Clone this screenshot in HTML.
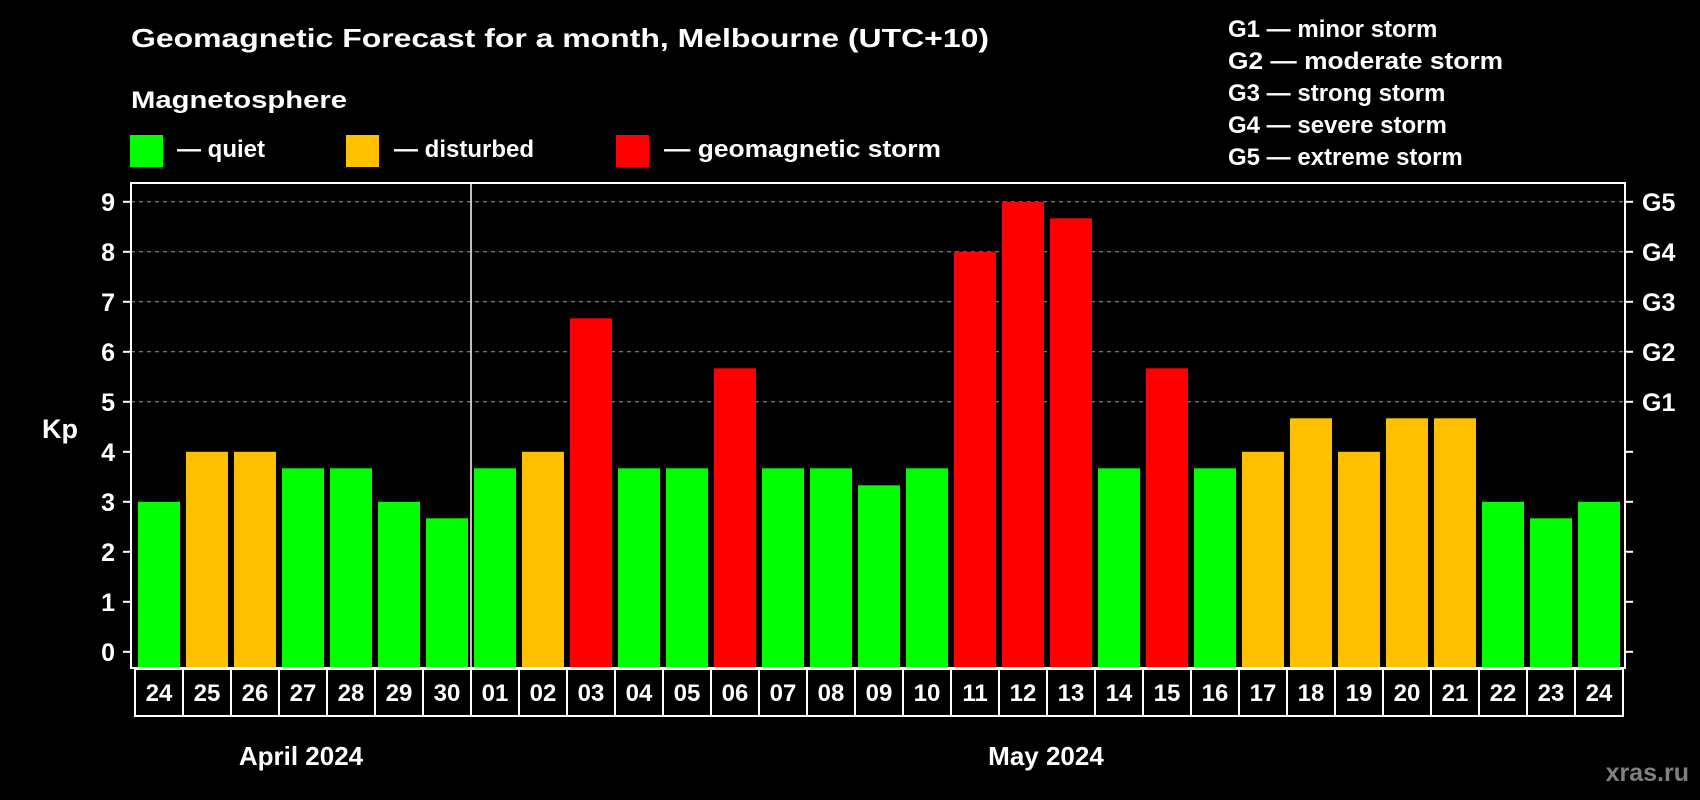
<!DOCTYPE html>
<html><head><meta charset="utf-8"><style>html,body{margin:0;padding:0;background:#000;}svg{display:block;font-family:"Liberation Sans",Arial,sans-serif;font-weight:bold;}</style></head>
<body>
<svg id="chart" width="1700" height="800" viewBox="0 0 1700 800" xmlns="http://www.w3.org/2000/svg">
<rect x="0" y="0" width="1700" height="800" fill="#000"/>
<text x="131" y="47" fill="#fff" font-size="26" textLength="858" lengthAdjust="spacingAndGlyphs">Geomagnetic Forecast for a month, Melbourne (UTC+10)</text>
<text x="131" y="108" fill="#fff" font-size="24" textLength="216" lengthAdjust="spacingAndGlyphs">Magnetosphere</text>
<rect x="130" y="135" width="33" height="32" fill="#00ff00"/>
<text x="177" y="157" fill="#fff" font-size="24">— quiet</text>
<rect x="346" y="135" width="33" height="32" fill="#ffc000"/>
<text x="394" y="157" fill="#fff" font-size="24">— disturbed</text>
<rect x="616" y="135" width="33" height="32" fill="#ff0000"/>
<text x="664" y="157" fill="#fff" font-size="24" textLength="277" lengthAdjust="spacingAndGlyphs">— geomagnetic storm</text>
<g fill="#fff" font-size="24">
<text x="1228" y="37">G1 — minor storm</text>
<text x="1228" y="69" textLength="275" lengthAdjust="spacingAndGlyphs">G2 — moderate storm</text>
<text x="1228" y="101">G3 — strong storm</text>
<text x="1228" y="133">G4 — severe storm</text>
<text x="1228" y="165">G5 — extreme storm</text>
</g>
<text x="42" y="438" fill="#fff" font-size="27">Kp</text>
<g id="grid"></g>
<g id="bars"></g>
<g id="axes"></g>
<text x="301" y="765" fill="#fff" font-size="26" text-anchor="middle">April 2024</text>
<text x="1046" y="765" fill="#fff" font-size="26" text-anchor="middle">May 2024</text>
<text x="1689" y="781" fill="#808080" font-size="25" text-anchor="end">xras.ru</text>
</svg>
<script>
const days = ["24","25","26","27","28","29","30","01","02","03","04","05","06","07","08","09","10","11","12","13","14","15","16","17","18","19","20","21","22","23","24"];
const kpValues = [3,4,4,3.67,3.67,3,2.67,3.67,4,6.67,3.67,3.67,5.67,3.67,3.67,3.33,3.67,8,9,8.67,3.67,5.67,3.67,4,4.67,4,4.67,4.67,3,2.67,3];
const yTicks = [0,1,2,3,4,5,6,7,8,9];
const gLabels = ["G1","G2","G3","G4","G5"];
const gLevels = [5,6,7,8,9];
const monthBoundaryIndex = 7;

const NS = "http://www.w3.org/2000/svg";
const plotL = 131, plotR = 1625, plotT = 183, plotB = 668;
const y0 = 651.8, unit = 50;
const barStart = 138, pitch = 48, barW = 42;
function yScale(v){ return y0 - v*unit; }
function xScale(i){ return barStart + i*pitch; }
function colorFor(v){ return v < 4 ? "#00ff00" : (v < 5 ? "#ffc000" : "#ff0000"); }
function mk(tag, attrs, parent){ const e=document.createElementNS(NS,tag); for(const k in attrs) e.setAttribute(k,attrs[k]); parent.appendChild(e); return e; }

const grid = document.getElementById("grid"), bars = document.getElementById("bars"), axes = document.getElementById("axes");
gLevels.forEach((lv,i)=>{
  const l = mk("line",{x1:plotL,x2:plotR,y1:yScale(lv),y2:yScale(lv),stroke:"#999","stroke-width":1,"stroke-dasharray":"4,4"},grid);
  
  
  const t = mk("text",{x:1642,y:yScale(lv)+9,fill:"#fff","font-size":25},axes);
  t.textContent = gLabels[i];
  
  
});
kpValues.forEach((v,i)=>{
  const r = mk("rect",{x:xScale(i),y:yScale(v),width:barW,height:plotB-1-yScale(v),fill:colorFor(v)},bars);
  
  
});
// frame
const fr = mk("rect",{x:plotL,y:plotT,width:plotR-plotL,height:plotB-plotT,fill:"none",stroke:"#fff","stroke-width":2},axes);


const sepX = xScale(monthBoundaryIndex) - 3;
const sep = mk("line",{x1:sepX,x2:sepX,y1:plotT,y2:plotB,stroke:"#fff","stroke-width":1.5},axes);


yTicks.forEach(v=>{
  const y = yScale(v);
  const a = mk("line",{x1:123,x2:plotL,y1:y,y2:y,stroke:"#fff","stroke-width":2},axes);
  
  
  const b = mk("line",{x1:plotR,x2:1633,y1:y,y2:y,stroke:"#fff","stroke-width":2},axes);
  
  
  const t = mk("text",{x:115,y:y+9,fill:"#fff","font-size":25,"text-anchor":"end"},axes);
  t.textContent = String(v);
  
  
});
// day label boxes
days.forEach((d,i)=>{
  const bx = xScale(i) - 3;
  const r = mk("rect",{x:bx,y:669,width:pitch,height:47,fill:"none",stroke:"#fff","stroke-width":2},axes);
  
  
  const t = mk("text",{x:bx+pitch/2,y:701,fill:"#fff","font-size":24,"text-anchor":"middle"},axes);
  t.textContent = d;
  
  
});
</script>
</body></html>
